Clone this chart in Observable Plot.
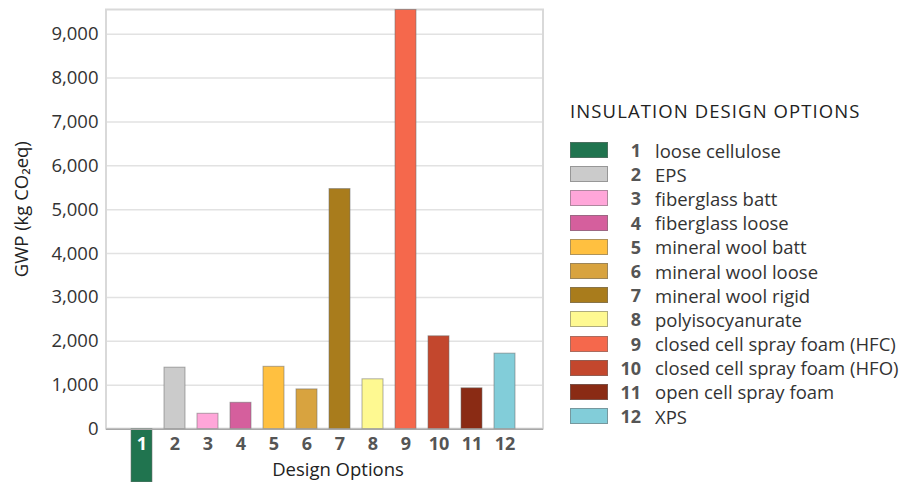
<!DOCTYPE html>
<html>
<head>
<meta charset="utf-8">
<script src="https://cdn.jsdelivr.net/npm/d3@7"></script>
<script src="https://cdn.jsdelivr.net/npm/@observablehq/plot@0.6"></script>
<style>
  html, body { margin: 0; padding: 0; background: white; }
  #wrap { position: relative; width: 903px; height: 482px; overflow: hidden; font-family: "Open Sans", Lato, sans-serif; }
  #chart { position: absolute; left: 0; top: 0; }
  #legend { position: absolute; left: 570px; top: 98px; color: #222; }
  #legend .title { font-size: 18.5px; letter-spacing: 1.1px; height: 26px; line-height: 26px; margin-bottom: 14px; white-space: nowrap; }
  #legend .row { display: flex; align-items: center; height: 24.2px; }
  #legend .sw { width: 36px; height: 14px; border: 1px solid rgba(110,110,110,0.55); box-sizing: content-box; }
  #legend .num { width: 33px; text-align: right; font-weight: bold; color: #555; font-size: 18px; }
  #legend .lab { margin-left: 14px; color: #333; font-size: 18.5px; white-space: nowrap; }
</style>
</head>
<body>
<div id="wrap">
  <div id="chart"></div>
  <div id="legend"></div>
</div>
<script>
const options = ["1","2","3","4","5","6","7","8","9","10","11","12"];
const names = ["loose cellulose","EPS","fiberglass batt","fiberglass loose","mineral wool batt","mineral wool loose","mineral wool rigid","polyisocyanurate","closed cell spray foam (HFC)","closed cell spray foam (HFO)","open cell spray foam","XPS"];
const gwp = [-1215, 1400, 350, 600, 1420, 905, 5470, 1135, 9550, 2115, 930, 1720];
const colors = ["#20744f","#cbcbcb","#ffa6d9","#d55f9d","#ffc040","#d8a33f","#a97c1c","#fef991","#f5684c","#c3472d","#8a2b14","#82cdd9"];
const yTicks = [0,1000,2000,3000,4000,5000,6000,7000,8000,9000];
const yMax = 9550, yMin = -1216;

const data = options.map((o, i) => ({option: o, name: names[i], value: gwp[i]}));

const chart = Plot.plot({
  width: 903,
  height: 482,
  marginLeft: 106,
  marginRight: 360,
  marginTop: 9.5,
  marginBottom: 0,
  style: {fontFamily: "'Open Sans', Lato, sans-serif", fontSize: "18px", background: "white", overflow: "visible"},
  x: {type: "band", domain: options, paddingInner: 0.358, paddingOuter: 0.651, align: 0.47, axis: null},
  y: {domain: [yMin, yMax], axis: null},
  color: {domain: options, range: colors},
  marks: [
    Plot.ruleY(yTicks.filter(d => d > 0), {stroke: "#e2e2e2", strokeWidth: 1.5}),
    Plot.rect([{}], {y1: 0, y2: yMax, fill: "none", stroke: "#d9d9d9", strokeWidth: 2}),
    Plot.text(yTicks, {y: d => d, text: d => d3.format(",")(d), frameAnchor: "left", textAnchor: "end", dx: -8, fill: "#333", fontSize: 18.5}),
    Plot.barY(data, {x: "option", y: "value", fill: "option", stroke: "#6e6e6e", strokeOpacity: 0.55, strokeWidth: 1}),
    Plot.ruleY([0], {stroke: "#a8a8a8", strokeWidth: 1.5}),
    Plot.text(data, {x: "option", y: () => 0, text: "option", dy: 15, fill: d => d.value < 0 ? "white" : "#555", fontWeight: "bold", fontSize: 18}),
    Plot.text(["Design Options"], {frameAnchor: "bottom", textAnchor: "middle", lineAnchor: "middle", dx: 13, dy: -12, fill: "#222", fontSize: 18.5, fontWeight: 500}),
    Plot.text(["GWP (kg CO₂eq)"], {frameAnchor: "left", textAnchor: "middle", lineAnchor: "middle", dx: -84, dy: -37, rotate: -90, fill: "#222", fontSize: 18.5, fontWeight: 500})
  ]
});
document.getElementById("chart").appendChild(chart);

const legend = document.getElementById("legend");
const title = document.createElement("div");
title.className = "title";
title.textContent = "INSULATION DESIGN OPTIONS";
legend.appendChild(title);
data.forEach((d, i) => {
  const row = document.createElement("div");
  row.className = "row";
  const sw = document.createElement("div");
  sw.className = "sw";
  sw.style.background = colors[i];
  const num = document.createElement("div");
  num.className = "num";
  num.textContent = d.option;
  const lab = document.createElement("div");
  lab.className = "lab";
  lab.textContent = d.name;
  row.append(sw, num, lab);
  legend.appendChild(row);
});
</script>
</body>
</html>
